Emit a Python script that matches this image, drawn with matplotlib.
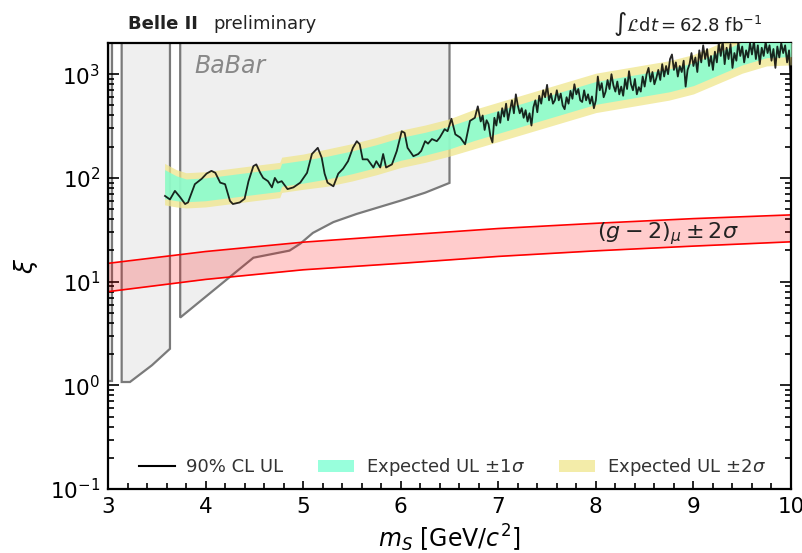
import matplotlib
matplotlib.use("Agg")
import matplotlib.pyplot as plt
import numpy as np
from matplotlib.patches import Patch
from matplotlib.lines import Line2D

# ---- data ----
# BaBar excluded regions: lower edges (upper edge runs off the top of the plot)
babar1_m = [3.00, 3.04]
babar1_xi = [1.10, 1.10]
babar2_m = [3.14, 3.225, 3.45, 3.635]
babar2_xi = [1.076, 1.076, 1.56, 2.25]
babar3_m = [3.74, 4.49, 4.86, 4.97, 5.10, 5.31, 5.55, 5.80, 5.99, 6.25, 6.50]
babar3_xi = [4.5, 17.0, 19.9, 23.2, 29.5, 37.5, 45.0, 53.0, 60.0, 72.0, 89.5]

# (g-2)_mu +- 2 sigma band
g2_m = [3, 4, 5, 6, 7, 8, 9, 10]
g2_lo = [8.0, 10.5, 13.0, 15.0, 17.5, 19.8, 22.0, 24.2]
g2_hi = [15.0, 19.5, 24.0, 28.0, 32.5, 36.5, 40.5, 44.0]

# expected upper limit: median (log10) and half widths in decades
exp_m = [3.58, 3.70, 3.80, 4.00, 4.25, 4.50, 4.76, 4.78, 5.00, 5.25, 5.50,
         5.75, 6.00, 6.25, 6.50, 6.75, 7.00, 7.25, 7.50, 7.75, 8.00, 8.25,
         8.50, 8.75, 9.00, 9.25, 9.50, 9.75, 10.00]
exp_med = [1.94, 1.90, 1.88, 1.89, 1.92, 1.95, 1.98, 2.03, 2.06, 2.10, 2.15,
           2.21, 2.28, 2.33, 2.39, 2.47, 2.54, 2.61, 2.68, 2.75, 2.82, 2.86,
           2.90, 2.94, 3.00, 3.10, 3.20, 3.27, 3.28]
exp_w1 = [0.14, 0.12, 0.11, 0.11, 0.11, 0.11, 0.11, 0.11, 0.11, 0.11, 0.11,
          0.11, 0.11, 0.11, 0.11, 0.11, 0.11, 0.11, 0.11, 0.11, 0.11, 0.11,
          0.11, 0.11, 0.11, 0.11, 0.11, 0.11, 0.11]
exp_w2 = [0.20, 0.18, 0.17, 0.17, 0.17, 0.17, 0.17, 0.17, 0.17, 0.18, 0.18,
          0.18, 0.18, 0.18, 0.18, 0.19, 0.19, 0.19, 0.19, 0.19, 0.19, 0.19,
          0.19, 0.19, 0.19, 0.19, 0.19, 0.19, 0.19]

# observed 90% CL upper limit, low mass part
obs_m_lo = [3.584, 3.635, 3.686, 3.74, 3.79, 3.82, 3.89, 3.96, 4.01, 4.06,
            4.10, 4.15, 4.20, 4.25, 4.28, 4.35, 4.40, 4.44, 4.49, 4.52,
            4.56, 4.59, 4.64, 4.68, 4.71, 4.74, 4.78, 4.84, 4.90, 4.97,
            5.04, 5.09, 5.15, 5.19, 5.22, 5.25, 5.31, 5.36, 5.41, 5.46,
            5.51, 5.55, 5.58, 5.61, 5.66, 5.72, 5.75, 5.79, 5.82, 5.85,
            5.91, 5.96, 6.01, 6.04, 6.07, 6.13, 6.18, 6.21, 6.25, 6.28,
            6.32, 6.37, 6.40, 6.45, 6.48, 6.52, 6.56, 6.61, 6.66, 6.71,
            6.76, 6.79]
obs_xi_lo = [67, 62, 75, 65, 56, 58, 87, 98, 110, 117,
             112, 90, 87, 60, 56, 58, 63, 93, 130, 135,
             112, 100, 93, 81, 100, 90, 93, 78, 81, 90,
             112, 170, 195, 157, 110, 90, 83, 110, 123, 145,
             195, 226, 211, 151, 151, 126, 145, 126, 170, 126,
             135, 182, 282, 272, 195, 162, 170, 182, 226, 214,
             237, 226, 245, 295, 282, 372, 263, 245, 211, 355,
             380, 490]
# high mass part, sampled every 0.02 GeV from 6.82 to 10.00
obs_xi_hi = [350, 400, 290, 360, 330, 250, 220, 380, 320, 430,
             340, 470, 390, 520, 360, 450, 560, 420, 640, 500,
             420, 470, 380, 450, 350, 420, 320, 480, 560, 430,
             620, 520, 700, 600, 790, 560, 650, 520, 560, 700,
             560, 650, 500, 460, 600, 520, 690, 580, 800, 640,
             720, 560, 540, 700, 560, 640, 520, 610, 470, 560,
             950, 700, 820, 600, 680, 880, 720, 1000, 780, 680,
             850, 640, 760, 620, 900, 720, 1070, 800, 700, 900,
             640, 750, 680, 950, 760, 1000, 1150, 850, 1050, 800,
             920, 1100, 880, 1250, 950, 1200, 1000, 1400, 1550, 1100,
             1300, 950, 1200, 1050, 1350, 760, 1100, 1250, 1600, 1200,
             1450, 1050, 1700, 1300, 1900, 1400, 1750, 1200, 1500, 1100,
             1650, 1300, 2000, 1500, 2100, 1250, 1800, 1400, 1950, 1150,
             1600, 1350, 2050, 1500, 1850, 1300, 1700, 1450, 2000, 1550,
             2100, 1400, 1900, 1250, 1800, 1500, 2050, 1600, 1900, 1350,
             1750, 1150, 1850, 1450, 2000, 1600, 1900, 1300, 1700, 700]
obs_m_hi = np.linspace(6.82, 10.0, len(obs_xi_hi))

obs_m = np.concatenate([obs_m_lo, obs_m_hi])
obs_xi = np.concatenate([obs_xi_lo, obs_xi_hi])

# ---- plot ----
fig = plt.figure(figsize=(8.02, 5.53), dpi=100)
ax = fig.add_axes([108 / 802, 64 / 553, 683 / 802, 446 / 553])
ax.set_yscale("log")
ax.set_xlim(3, 10)
ax.set_ylim(0.1, 2000)

top = 5000  # BaBar regions extend above the plot
for bm, bx in [(babar1_m, babar1_xi), (babar2_m, babar2_xi), (babar3_m, babar3_xi)]:
    px = [bm[0]] + list(bm) + [bm[-1]]
    py = [top] + list(bx) + [top]
    ax.fill(px, py, facecolor="#efefef", edgecolor="#7a7a7a", lw=1.6, zorder=1)

ax.fill_between(g2_m, g2_lo, g2_hi, color="red", alpha=0.2, lw=0, zorder=2)
ax.plot(g2_m, g2_lo, color="red", lw=1.2, zorder=2)
ax.plot(g2_m, g2_hi, color="red", lw=1.2, zorder=2)

med = np.array(exp_med)
w1 = np.array(exp_w1)
w2 = np.array(exp_w2)
ax.fill_between(exp_m, 10 ** (med - w2), 10 ** (med + w2), color="#f0e68c",
                alpha=0.75, lw=0, zorder=3)
ax.fill_between(exp_m, 10 ** (med - w1), 10 ** (med + w1), color="#7fffd4",
                alpha=0.8, lw=0, zorder=3)
ax.plot(obs_m, obs_xi, color="black", lw=1.3, alpha=0.85, zorder=4)

ax.text(3.89, 1200, "BaBar", style="italic", color="#888888", fontsize=17,
        va="center", ha="left")
ax.text(8.74, 29, r"$(g-2)_\mu \pm 2\sigma$", fontsize=16, ha="center",
        va="center", color="#222222")

ax.text(0.029, 1.043, "Belle II", fontweight="bold", fontsize=13,
        transform=ax.transAxes, va="center", ha="left", color="#222222")
ax.text(0.155, 1.043, "preliminary", fontsize=13, transform=ax.transAxes,
        va="center", ha="left", color="#222222")
ax.text(0.9575, 1.043, r"$\int\mathcal{L}\mathrm{d}t = 62.8\ \mathrm{fb}^{-1}$",
        fontsize=13, transform=ax.transAxes, va="center", ha="right",
        color="#222222")

ax.set_xlabel(r"$m_S$ [GeV/$c^2$]", fontsize=17)
ax.set_ylabel(r"$\xi$", fontsize=18)
ax.yaxis.set_label_coords(-0.1, 0.5)

ax.xaxis.set_minor_locator(matplotlib.ticker.MultipleLocator(0.2))
ax.tick_params(which="both", direction="in", right=True, top=False,
               labelsize=15.5, pad=5.5, width=1.2)
ax.tick_params(axis="y", which="major", length=8)
ax.tick_params(axis="x", which="major", length=6)
ax.tick_params(which="minor", length=4)
for s in ax.spines.values():
    s.set_linewidth(1.6)

handles = [Line2D([], [], color="black", lw=1.5),
           Patch(facecolor="#7fffd4", alpha=0.8),
           Patch(facecolor="#f0e68c", alpha=0.75)]
labels = ["90% CL UL", r"Expected UL $\pm1\sigma$", r"Expected UL $\pm2\sigma$"]
ax.legend(handles, labels, ncol=3, frameon=False, fontsize=13,
          loc="center", bbox_to_anchor=(0.504, 0.049), handlelength=2.0,
          handletextpad=0.65, columnspacing=1.9, labelcolor="#333333")

fig.savefig("out.png", dpi=100)
